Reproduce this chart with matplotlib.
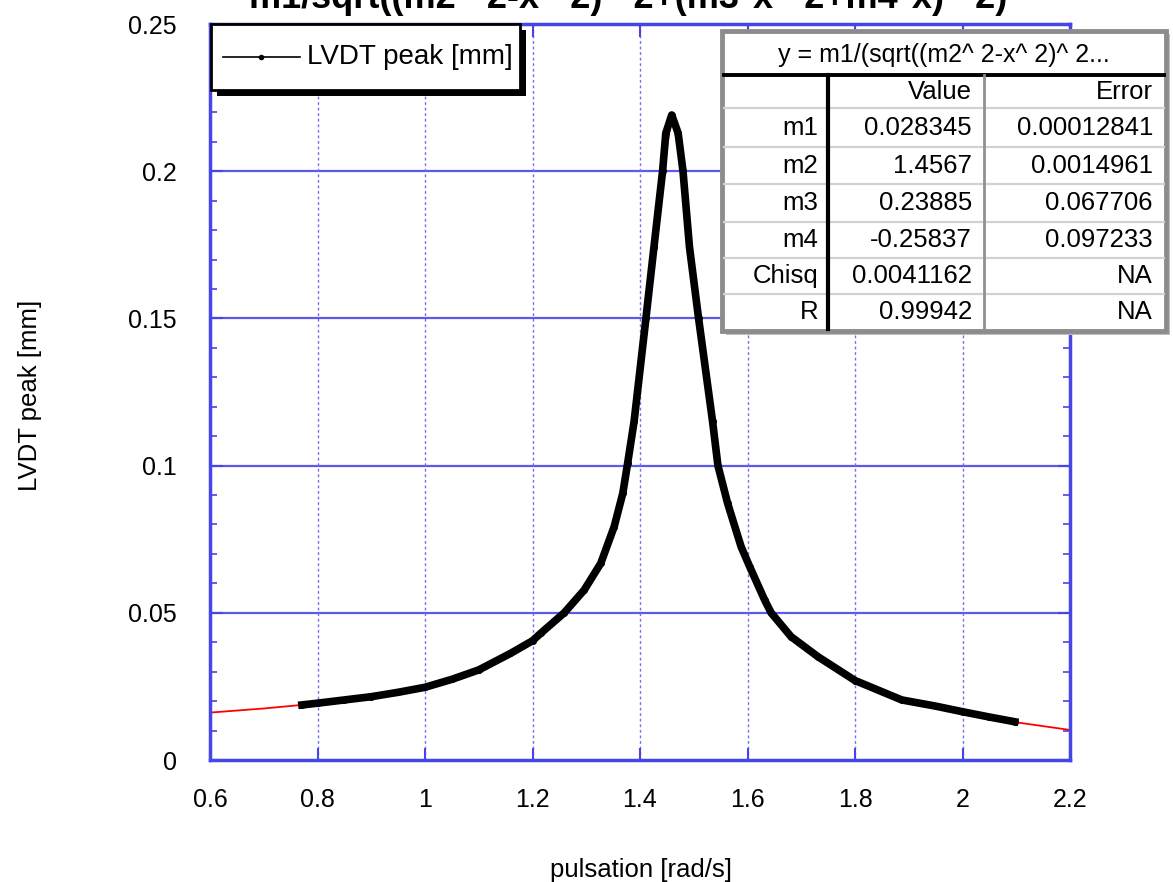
import matplotlib
matplotlib.use("Agg")
import matplotlib.pyplot as plt
from matplotlib.patches import Rectangle
from matplotlib.lines import Line2D
from matplotlib.ticker import MultipleLocator, FixedLocator, FuncFormatter

plt.rcParams['font.family'] = ['Liberation Sans', 'DejaVu Sans']

# Measured LVDT response (rad/s, mm)
pulsation = [0.771, 0.80, 0.85, 0.90, 0.95, 1.00, 1.05, 1.10, 1.159, 1.20,
             1.215, 1.259, 1.296, 1.327, 1.352, 1.368, 1.377, 1.389, 1.411, 1.426,
             1.442, 1.448, 1.459, 1.471, 1.480, 1.492, 1.509, 1.535, 1.545, 1.563,
             1.588, 1.604, 1.632, 1.644, 1.681, 1.731, 1.80, 1.887, 1.95, 2.00,
             2.05, 2.097]
lvdt_peak = [0.0187, 0.0193, 0.0204, 0.0215, 0.0230, 0.0247, 0.0274, 0.0306, 0.0362, 0.0405,
             0.0430, 0.0500, 0.0577, 0.0668, 0.0793, 0.0906, 0.1008, 0.1150, 0.1500, 0.1743,
             0.2000, 0.2129, 0.2191, 0.2129, 0.2000, 0.1743, 0.1500, 0.1150, 0.1000, 0.0872,
             0.0725, 0.0657, 0.0543, 0.0500, 0.0419, 0.0351, 0.0270, 0.0204, 0.0183, 0.0164,
             0.0146, 0.0130]

# Fitted curve
fit_pulsation = [0.60, 0.70, 0.80, 0.90, 1.00, 1.10, 1.20, 1.26, 1.30, 1.35, 1.38, 1.41,
                 1.44, 1.459, 1.48, 1.51, 1.535, 1.56, 1.60, 1.645, 1.70, 1.80, 1.90, 2.00,
                 2.10, 2.20]
fit_peak = [0.0161, 0.0175, 0.0192, 0.0214, 0.0246, 0.0303, 0.0403, 0.0500, 0.0586, 0.0770,
            0.1030, 0.1480, 0.1960, 0.2185, 0.2000, 0.1480, 0.1140, 0.0890, 0.0660, 0.0495,
            0.0390, 0.0268, 0.0200, 0.0164, 0.0128, 0.0102]

x_ticks = [0.6, 0.8, 1.0, 1.2, 1.4, 1.6, 1.8, 2.0, 2.2]
y_ticks = [0, 0.05, 0.1, 0.15, 0.2, 0.25]

title_text = 'm1/sqrt((m2^ 2-x^ 2)^ 2+(m3*x^ 2+m4*x)^ 2)'
fit_label = 'y = m1/(sqrt((m2^ 2-x^ 2)^ 2...'
param_names = ['m1', 'm2', 'm3', 'm4', 'Chisq', 'R']
param_values = ['0.028345', '1.4567', '0.23885', '-0.25837', '0.0041162', '0.99942']
param_errors = ['0.00012841', '0.0014961', '0.067706', '0.097233', 'NA', 'NA']
legend_label = 'LVDT peak [mm]'

W, H = 1173, 882
fig = plt.figure(figsize=(W / 100, H / 100), dpi=100)


def fx(x):
    return x / W


def fy(y):
    return 1 - y / H


AX_L, AX_R, AX_T, AX_B = 210, 1070, 24, 760
ax = fig.add_axes([fx(AX_L), fy(AX_B), (AX_R - AX_L) / W, (AX_B - AX_T) / H])

blue = '#4646e6'
ax.set_xlim(0.6, 2.2)
ax.set_ylim(0, 0.25)

for yv in y_ticks[1:-1]:
    ax.axhline(yv, color='#5a5aee', lw=1.6, zorder=1)
for xv in x_ticks[1:-1]:
    ax.axvline(xv, color='#7070f0', lw=1.0, ls=(0, (2, 2)), zorder=1)

ax.plot(fit_pulsation, fit_peak, color='red', lw=1.3, zorder=2)
ax.plot(pulsation, lvdt_peak, color='black', lw=5.5, marker='o', ms=4, zorder=3)

for s in ax.spines.values():
    s.set_color(blue)
    s.set_linewidth(2.5)

ax.xaxis.set_major_locator(FixedLocator(x_ticks))
ax.yaxis.set_major_locator(FixedLocator(y_ticks))
ax.yaxis.set_minor_locator(MultipleLocator(0.01))
fmt = FuncFormatter(lambda v, p: '%g' % round(v, 3))
ax.xaxis.set_major_formatter(fmt)
ax.yaxis.set_major_formatter(fmt)
ax.tick_params(which='both', direction='in', color=blue, top=True, right=True)
ax.tick_params(which='major', length=9, width=1.5, labelsize=18)
ax.tick_params(which='minor', length=5, width=1.2)
ax.tick_params(axis='y', which='major', pad=24)
ax.tick_params(axis='x', which='major', pad=20)

fig.text(fx(628), fy(8), title_text, ha='center', va='baseline',
         fontsize=26, fontweight='bold')
fig.text(fx(30), fy(395), 'LVDT peak [mm]', rotation=90, ha='center', va='center', fontsize=18.5)
fig.text(fx(641), fy(870), 'pulsation [rad/s]', ha='center', va='center', fontsize=18.5)


def frect(x0, y0, x1, y1, **kw):
    r = Rectangle((fx(x0), fy(y1)), (x1 - x0) / W, (y1 - y0) / H,
                  transform=fig.transFigure, **kw)
    fig.add_artist(r)
    return r


def fline(x0, y0, x1, y1, **kw):
    fig.add_artist(Line2D([fx(x0), fx(x1)], [fy(y0), fy(y1)], transform=fig.transFigure, **kw))


# Legend box with drop shadow
frect(217, 30, 526, 96, facecolor='black', edgecolor='none', zorder=10)
frect(211, 24, 520, 90, facecolor='white', edgecolor='black', lw=2, zorder=11)
fig.add_artist(Line2D([fx(223), fx(300)], [fy(57), fy(57)], color='black', lw=1.2,
                      transform=fig.transFigure, zorder=12))
fig.add_artist(Line2D([fx(261)], [fy(57)], color='black', marker='o', ms=3,
                      transform=fig.transFigure, zorder=12))
fig.text(fx(307), fy(57), legend_label, ha='left', va='center', fontsize=20, zorder=12)

# Fit parameter table
TL, TR, TT, TB = 722, 1166, 31, 331
frect(TL + 4, TT + 3, TR + 4, TB + 4, facecolor='#bdbdbd', edgecolor='none', zorder=10)
frect(TL, TT, TR, TB, facecolor='white', edgecolor='#8c8c8c', lw=3.5, zorder=11)
row_lines = [108, 147, 184, 222, 258, 294]
for yl in row_lines:
    fline(TL + 2, yl, TR - 2, yl, color='#d2d2d2', lw=1.6, zorder=12)
fline(TL + 2, 75, TR - 2, 75, color='black', lw=2.8, zorder=13)
fline(828, 75, 828, TB - 2, color='black', lw=3, zorder=13)
fline(984, 75, 984, TB - 2, color='#909090', lw=2, zorder=13)

fig.text(fx(944), fy(55), fit_label, ha='center', va='center', fontsize=18, zorder=14)
fig.text(fx(972), fy(92), 'Value', ha='right', va='center', fontsize=18.5, zorder=14)
fig.text(fx(1153), fy(92), 'Error', ha='right', va='center', fontsize=18.5, zorder=14)
row_centers = [128, 166, 203, 240, 276, 312]
for yc, nm, val, err in zip(row_centers, param_names, param_values, param_errors):
    fig.text(fx(818), fy(yc), nm, ha='right', va='center', fontsize=18.5, zorder=14)
    fig.text(fx(972), fy(yc), val, ha='right', va='center', fontsize=18.5, zorder=14)
    fig.text(fx(1153), fy(yc), err, ha='right', va='center', fontsize=18.5, zorder=14)

fig.savefig('out.png', dpi=100)
